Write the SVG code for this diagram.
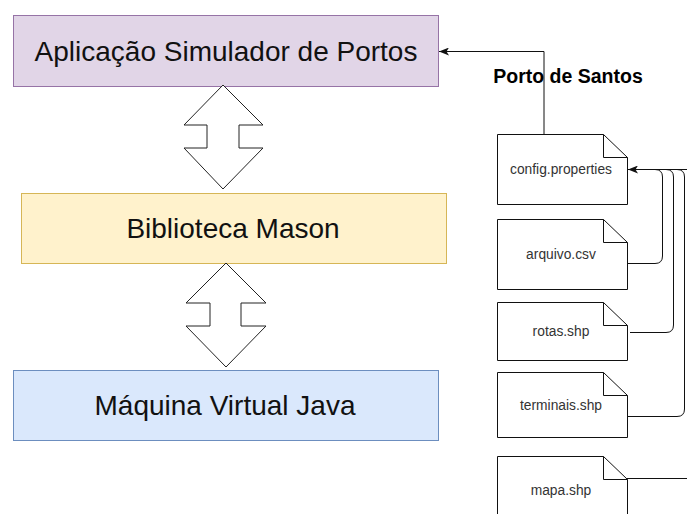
<svg xmlns="http://www.w3.org/2000/svg" width="687" height="514" viewBox="0 0 687 514">
  <defs>
    <style>
      .main { font-family: "Liberation Sans", Arial, sans-serif; font-size: 28px; fill: #111; text-anchor: middle; }
      .file { fill: #fff; stroke: #111; stroke-width: 1; }
      .fold { fill: none; stroke: #111; stroke-width: 1; }
      .flabel { font-family: "Liberation Sans", Arial, sans-serif; font-size: 13.8px; fill: #333; text-anchor: middle; }
      .conn { fill: none; stroke: #111; stroke-width: 1; }
      .dbl { fill: #fff; stroke: #222; stroke-width: 1; }
      .title { font-family: "Liberation Sans", Arial, sans-serif; font-size: 19.5px; font-weight: bold; fill: #000; text-anchor: middle; }
    </style>
    <marker id="arr" viewBox="0 0 10 8" refX="10" refY="4" markerWidth="10" markerHeight="8" orient="auto" markerUnits="userSpaceOnUse">
      <path d="M0,0 L10,4 L0,8 L2.5,4 Z" fill="#111"/>
    </marker>
  </defs>
  <rect width="687" height="514" fill="#fff"/>

  <g id="app">
    <rect x="13.5" y="15.5" width="425" height="71" fill="#e1d5e7" stroke="#9673a6"/>
    <text class="main" x="226" y="61">Aplicação Simulador de Portos</text>
  </g>
  <g id="mason">
    <rect x="21.5" y="193.5" width="425" height="70" fill="#fff2cc" stroke="#d6b656"/>
    <text class="main" x="233" y="238">Biblioteca Mason</text>
  </g>
  <g id="jvm">
    <rect x="13.5" y="370.5" width="425" height="70" fill="#dae8fc" stroke="#6c8ebf"/>
    <text class="main" x="225" y="415">Máquina Virtual Java</text>
  </g>
  <g id="arrow1">
    <path class="dbl" d="M223,85 L263,125 L239,125 L239,148 L263,148 L223,189 L184,148 L207,148 L207,125 L184,125 Z"/>
  </g>
  <g id="arrow2">
    <path class="dbl" d="M226,263 L266,303 L241,303 L241,326 L266,326 L226,367 L186,326 L210,326 L210,303 L186,303 Z"/>
  </g>

  <g id="title">
    <text class="title" x="568" y="83">Porto de Santos</text>
  </g>

  <g id="connectors">
    <path class="conn" d="M544,134 V51.5 H439" marker-end="url(#arr)"/>
    <path class="conn" d="M687,169.5 H628" marker-end="url(#arr)"/>
    <path class="conn" d="M627,263.5 H655 Q662.5,263.5 662.5,256 V177 Q662.5,169.5 655,169.5 H636"/>
    <path class="conn" d="M630,332.5 H666 Q673.5,332.5 673.5,325 V177 Q673.5,169.5 666,169.5 H636"/>
    <path class="conn" d="M627,416.5 H677 Q684.5,416.5 684.5,409 V177 Q684.5,169.5 677,169.5 H636"/>
    <path class="conn" d="M627,478.5 H687"/>
  </g>

  <g id="config">
    <path class="file" d="M497.5,134.5 H603.5 L627.5,157.5 V204.5 H497.5 Z"/>
    <path class="fold" d="M603.5,134.5 V157.5 H627.5"/>
    <text class="flabel" x="561" y="174">config.properties</text>
  </g>
  <g id="arquivo">
    <path class="file" d="M497.5,219.5 H603.5 L627.5,242.5 V289.5 H497.5 Z"/>
    <path class="fold" d="M603.5,219.5 V242.5 H627.5"/>
    <text class="flabel" x="561" y="259">arquivo.csv</text>
  </g>
  <g id="rotas">
    <path class="file" d="M497.5,302.5 H603.5 L627.5,325.5 V360.5 H497.5 Z"/>
    <path class="fold" d="M603.5,302.5 V325.5 H627.5"/>
    <text class="flabel" x="561" y="336">rotas.shp</text>
  </g>
  <g id="terminais">
    <path class="file" d="M497.5,372.5 H603.5 L627.5,395.5 V437.5 H497.5 Z"/>
    <path class="fold" d="M603.5,372.5 V395.5 H627.5"/>
    <text class="flabel" x="561" y="410">terminais.shp</text>
  </g>
  <g id="mapa">
    <path class="file" d="M497.5,456.5 H603.5 L627.5,479.5 V520 H497.5 Z"/>
    <path class="fold" d="M603.5,456.5 V479.5 H627.5"/>
    <text class="flabel" x="561" y="495">mapa.shp</text>
  </g>
</svg>
